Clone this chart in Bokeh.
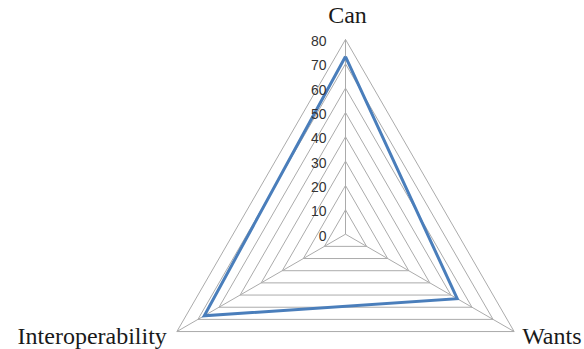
import numpy as np
from bokeh.plotting import figure
from bokeh.models import Range1d, ColumnDataSource
from bokeh.embed import file_html
from bokeh.resources import INLINE
from bokeh.core.properties import value

# ---- data ----
categories = ["Can", "Wants", "Interoperability"]
scores = [73, 53, 67]
levels = [0, 10, 20, 30, 40, 50, 60, 70, 80]
level_labels = ["0", "10", "20", "30", "40", "50", "60", "70", "80"]

# ---- geometry ----
angles = np.deg2rad([90, -30, 210])
rmax = 80
s = 2.434  # px per unit
cx_px, cy_px = 345, 233.7  # center in figure pixels
W, H = 584, 349

p = figure(width=W, height=H, output_backend="svg", toolbar_location=None,
           x_range=Range1d(-cx_px / s, (W - cx_px) / s),
           y_range=Range1d(-(H - cy_px) / s, cy_px / s),
           min_border=0)
p.axis.visible = False
p.grid.visible = False
p.outline_line_color = None
p.background_fill_color = "white"
p.border_fill_color = "white"

grid_color = "#ababab"

# grid triangles
for lv in levels[1:]:
    xs = list(lv * np.cos(angles)) + [lv * np.cos(angles[0])]
    ys = list(lv * np.sin(angles)) + [lv * np.sin(angles[0])]
    p.line(xs, ys, line_color=grid_color, line_width=1)

# spokes
for a in angles:
    p.line([0, rmax * np.cos(a)], [0, rmax * np.sin(a)], line_color=grid_color, line_width=1)

# data series
xs = [v * np.cos(a) for v, a in zip(scores, angles)]
ys = [v * np.sin(a) for v, a in zip(scores, angles)]
p.line(xs + [xs[0]], ys + [ys[0]], line_color="#4a7ebb", line_width=3, line_join="miter")

# tick labels
tsrc = ColumnDataSource(dict(x=[-19 / s] * len(levels), y=[lv - 1.5 / s for lv in levels], t=level_labels))
p.text("x", "y", text="t", source=tsrc, text_align="right", text_baseline="middle",
       text_font=value("Liberation Sans"), text_font_size="14px", text_color="#333333")

# category labels
vx = [rmax * np.cos(a) for a in angles]
vy = [rmax * np.sin(a) for a in angles]
cx = [vx[0] + 2 / s, vx[1] + 8 / s, vx[2] - 10 / s]
cy = [vy[0] + 24 / s, vy[1] - 4 / s, vy[2] - 4 / s]
aligns = ["center", "left", "right"]
for x, y, t, al in zip(cx, cy, categories, aligns):
    p.text([x], [y], text=[t], text_align=al, text_baseline="alphabetic",
           text_font=value("Liberation Serif"), text_font_size="24px", text_color="#1a1a1a")

open("out.html", "w").write(file_html(p, INLINE))
